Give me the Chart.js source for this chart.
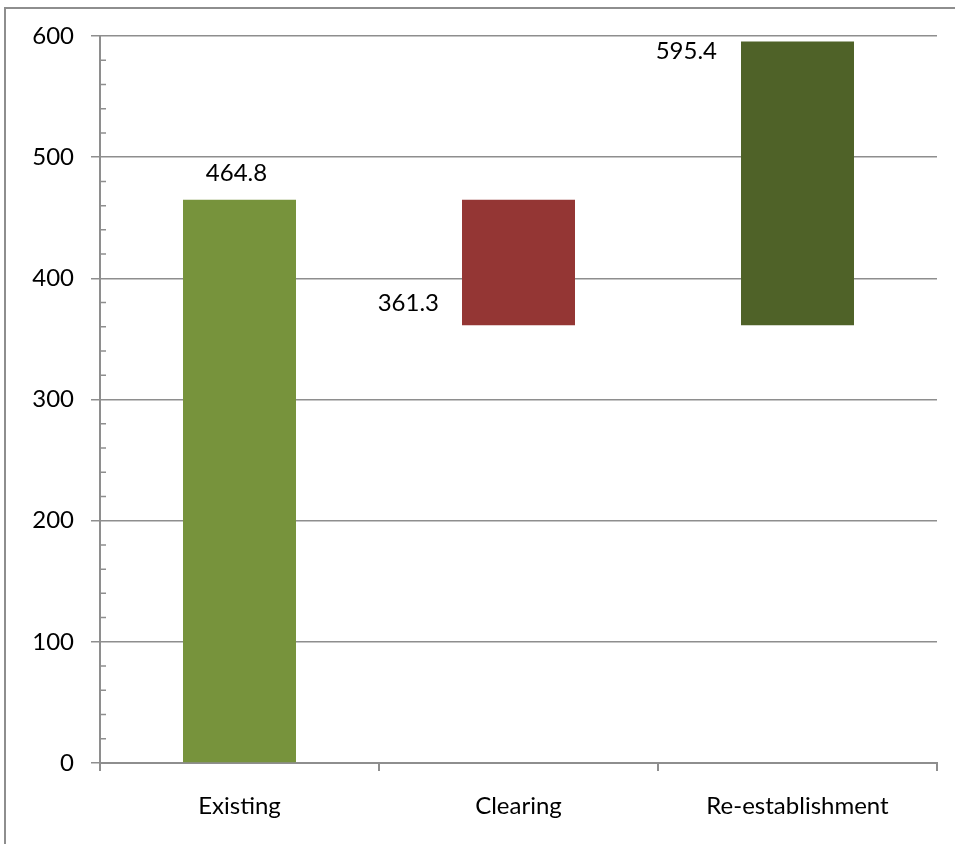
<!DOCTYPE html>
<html>
<head>
<meta charset="utf-8">
<script src="https://cdn.jsdelivr.net/npm/chart.js@4/dist/chart.umd.min.js"></script>
<style>
  body { margin: 0; background: #fff; }
  canvas { display: block; }
</style>
</head>
<body>
<canvas id="myChart" width="955" height="844"></canvas>
<script>
// categories and floating bar ranges [start, end]
const categories = ['Existing', 'Clearing', 'Re-establishment']
const barStart = [0, 361.3, 361.3]
const barEnd = [464.8, 464.8, 595.4]
const labelValues = [464.8, 361.3, 595.4]
const barColors = ['#77933C', '#943634', '#4F6228']
const yTicks = [0, 100, 200, 300, 400, 500, 600]

const FONT = 'Lato, "Open Sans", sans-serif'
const GRID = '#8e8e8e'

const ranges = []
for (let i = 0; i < categories.length; i++) {
  ranges.push([barStart[i], barEnd[i]])
}

// frame, minor ticks and value labels
const decor = {
  id: 'decor',
  afterDraw(chart) {
    const ctx = chart.ctx
    const y = chart.scales.y
    const x = chart.scales.x
    ctx.save()
    // outer frame (only left/top visible)
    ctx.strokeStyle = GRID
    ctx.lineWidth = 2
    ctx.beginPath()
    ctx.moveTo(5, 844)
    ctx.lineTo(5, 8)
    ctx.lineTo(955, 8)
    ctx.stroke()

    // minor ticks on y axis
    ctx.lineWidth = 1.5
    ctx.beginPath()
    for (let v = 20; v < 600; v += 20) {
      if (v % 100 === 0) continue
      const py = y.getPixelForValue(v)
      ctx.moveTo(x.left, py)
      ctx.lineTo(x.left + 6, py)
    }
    ctx.stroke()

    // value labels
    const bars = chart.getDatasetMeta(0).data
    ctx.fillStyle = '#000'
    ctx.font = '24px ' + FONT
    ctx.textBaseline = 'middle'
    // Existing: above bar top, centred
    let b = bars[0]
    ctx.textAlign = 'center'
    ctx.fillText(labelValues[0].toFixed(1), b.x - 3, y.getPixelForValue(labelValues[0]) - 27)
    // Clearing: left of bar, near its base
    b = bars[1]
    ctx.textAlign = 'right'
    ctx.fillText(labelValues[1].toFixed(1), b.x - b.width / 2 - 23, y.getPixelForValue(labelValues[1]) - 22)
    // Re-establishment: left of bar, near its top
    b = bars[2]
    ctx.fillText(labelValues[2].toFixed(1), b.x - b.width / 2 - 24, y.getPixelForValue(labelValues[2]) + 10)
    ctx.restore()
  }
}

const data = {
  labels: categories,
  datasets: [{
    data: ranges,
    backgroundColor: barColors,
    borderWidth: 0,
    categoryPercentage: 1,
    barPercentage: 0.405
  }]
}

const config = {
  type: 'bar',
  data: data,
  options: {
    responsive: false,
    animation: false,
    devicePixelRatio: 1,
    layout: { padding: { left: 0, top: 36, right: 18, bottom: 0 } },
    plugins: {
      legend: { display: false },
      tooltip: { enabled: false }
    },
    scales: {
      x: {
        offset: true,
        grid: {
          offset: true,
          drawOnChartArea: false,
          drawTicks: true,
          tickLength: 8,
          lineWidth: 2,
          color: GRID
        },
        border: { color: GRID, width: 2 },
        ticks: {
          color: '#000',
          font: { family: FONT, size: 24 },
          padding: 21,
          maxRotation: 0
        },
        afterFit(scale) { scale.height = 81 }
      },
      y: {
        min: 0,
        max: 600,
        afterBuildTicks(scale) {
          scale.ticks = yTicks.map(v => ({ value: v }))
        },
        grid: {
          color: GRID,
          lineWidth: 1.5,
          tickLength: 9
        },
        border: { color: GRID, width: 2 },
        ticks: {
          color: '#000',
          font: { family: FONT, size: 24 },
          padding: 17
        },
        afterFit(scale) { scale.width = 100 }
      }
    }
  },
  plugins: [decor]
}

const myChart = new Chart(document.getElementById('myChart'), config)
</script>
</body>
</html>
